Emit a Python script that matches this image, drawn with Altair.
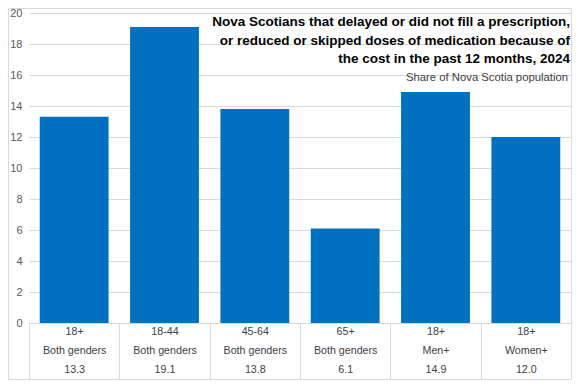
import altair as alt
import pandas as pd

# ---- data ----
ages = ["18+", "18-44", "45-64", "65+", "18+", "18+"]
genders = ["Both genders", "Both genders", "Both genders", "Both genders", "Men+", "Women+"]
values = [13.3, 19.1, 13.8, 6.1, 14.9, 12.0]
y_ticks = [0, 2, 4, 6, 8, 10, 12, 14, 16, 18, 20]
title_lines = [
    "Nova Scotians that delayed or did not fill a prescription,",
    "or reduced or skipped doses of medication because of",
    "the cost in the past 12 months, 2024",
]
subtitle_text = "Share of Nova Scotia population"

df = pd.DataFrame({"age": ages, "gender": genders, "value": values})
df["cat"] = [f"{a}|{g}|{v:.1f}" for a, g, v in zip(ages, genders, values)]

# layout (svg is 564 x 372 so that the page fits the 580 x 388 window)
PAD_L, PAD_T, PAD_R, PAD_B = 21, 5, 1, 57
W, H = 542, 310
TABLE = 56
GRID = "#D9D9D9"
FONT = "Liberation Sans, Arial, sans-serif"

bars = alt.Chart(df).mark_bar(
    color="#0070C0", width=alt.RelativeBandSize(0.762)
).encode(
    x=alt.X(
        "cat:N",
        sort=None,
        title=None,
        scale=alt.Scale(paddingInner=0, paddingOuter=0),
        axis=alt.Axis(
            labelExpr="split(datum.label, '|')",
            labelAngle=0,
            labelLineHeight=19,
            labelFontSize=10.7,
            labelColor="#404040",
            labelFont=FONT,
            labelBaseline="top",
            labelPadding=3 - TABLE,
            labelOverlap=False,
            ticks=True,
            tickBand="extent",
            tickSize=TABLE,
            tickColor=GRID,
            domainColor=GRID,
            grid=False,
        ),
    ),
    y=alt.Y(
        "value:Q",
        title=None,
        scale=alt.Scale(domain=[0, 20], nice=False),
        axis=alt.Axis(
            values=y_ticks,
            grid=True,
            gridColor=GRID,
            ticks=False,
            domain=False,
            labelPadding=7,
            labelFontSize=11,
            labelColor="#595959",
            labelFont=FONT,
        ),
    ),
)

one = alt.Data(values=[{}])

border = alt.Chart(one).mark_rect(
    fillOpacity=0, stroke=GRID, strokeWidth=1
).encode(
    x=alt.value(0.5 - PAD_L),
    x2=alt.value(W + PAD_R - 0.5),
    y=alt.value(0.5 - PAD_T),
    y2=alt.value(H + PAD_B - 0.5),
)

title_layer = alt.Chart(one).mark_text(
    text=title_lines,
    align="right",
    baseline="alphabetic",
    fontSize=13.5,
    fontWeight="bold",
    font=FONT,
    lineHeight=18.5,
    color="#000000",
).encode(x=alt.value(W - 1), y=alt.value(13))

subtitle_layer = alt.Chart(one).mark_text(
    text=subtitle_text,
    align="right",
    baseline="alphabetic",
    fontSize=11.3,
    font=FONT,
    color="#404040",
).encode(x=alt.value(W - 3), y=alt.value(67.5))

chart = (
    alt.layer(bars, border, title_layer, subtitle_layer)
    .properties(
        width=W,
        height=H,
        padding={"left": PAD_L, "top": PAD_T, "right": PAD_R, "bottom": PAD_B},
        autosize=alt.AutoSizeParams(type="none"),
        background="white",
    )
    .configure_view(strokeWidth=0)
)

chart.save("out.html", embed_options={"renderer": "svg", "actions": False})
